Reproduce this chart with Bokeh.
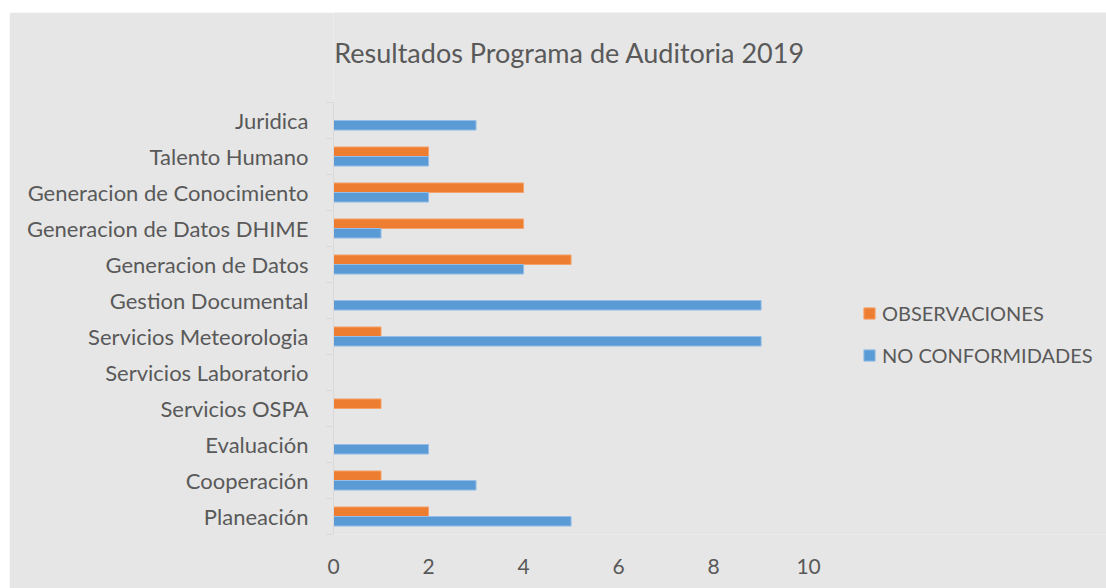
from bokeh.plotting import figure
from bokeh.models import FixedTicker, Legend, LegendItem, Spacer, Label
from bokeh.layouts import row, column
from bokeh.transform import dodge
from bokeh.embed import file_html
from bokeh.resources import INLINE

categories = ["Planeación", "Cooperación", "Evaluación", "Servicios OSPA",
              "Servicios Laboratorio", "Servicios Meteorologia", "Gestion Documental",
              "Generacion de Datos", "Generacion de Datos DHIME",
              "Generacion de Conocimiento", "Talento Humano", "Juridica"]
no_conformidades = [5, 3, 2, 0, 0, 9, 9, 4, 1, 2, 2, 3]
observaciones = [2, 1, 0, 1, 0, 1, 0, 5, 4, 4, 2, 0]
x_ticks = [0, 2, 4, 6, 8, 10]
title_text = "Resultados Programa de Auditoria 2019"

FONT = "Lato"
TXT = "#595959"
BG = "#e6e6e6"
BLUE = "#5b9bd5"
ORANGE = "#ed7d31"

n = len(categories)
centers = [i + 0.5 for i in range(n)]
bounds = list(range(n + 1))
data = dict(y=centers, nc=no_conformidades, ob=observaciones)

# frame extends to the right and top edges so the legend and title can sit inside it;
# value 10 lands where the reference's axis ends, category 12 where its axis tops out
p = figure(width=1097, height=576, x_range=(0, 16.27), y_range=(0, n + 2.5),
           output_backend="svg", toolbar_location=None,
           min_border_left=324, min_border_right=0, min_border_top=0,
           min_border_bottom=54)
p.background_fill_color = BG
p.border_fill_color = BG
p.outline_line_color = None
p.grid.visible = False

bh = 0.265
r_ob = p.hbar(y=dodge("y", bh / 2, range=p.y_range), right="ob", left=0, height=bh,
              source=data, fill_color=ORANGE, line_color="#f4a36c", line_width=1)
r_nc = p.hbar(y=dodge("y", -bh / 2, range=p.y_range), right="nc", left=0, height=bh,
              source=data, fill_color=BLUE, line_color="#93bde6", line_width=1)

# x axis
xa = p.xaxis[0]
xa.ticker = FixedTicker(ticks=x_ticks)
xa.axis_line_color = None
xa.major_tick_line_color = None
xa.minor_tick_line_color = None
xa.major_label_text_font = FONT
xa.major_label_text_font_size = "21px"
xa.major_label_text_color = TXT
xa.major_label_standoff = 18

# y axis
ya = p.yaxis[0]
ya.bounds = (0, n)
ya.ticker = FixedTicker(ticks=centers, minor_ticks=bounds)
ya.major_label_overrides = {c: lab for c, lab in zip(centers, categories)}
ya.axis_line_color = "#d9d9d9"
ya.axis_line_width = 1
ya.major_tick_line_color = None
ya.major_tick_out = 0
ya.major_tick_in = 0
ya.minor_tick_line_color = "#d9d9d9"
ya.minor_tick_out = 7
ya.minor_tick_in = 0
ya.major_label_text_font = FONT
ya.major_label_text_font_size = "22px"
ya.major_label_text_color = TXT
ya.major_label_standoff = 18

title = Label(x=4.97, y=n + 1.39, text=title_text, text_align="center",
              text_baseline="middle", text_font=FONT, text_font_size="27px",
              text_color=TXT)
p.add_layout(title)

legend = Legend(items=[LegendItem(label="OBSERVACIONES", renderers=[r_ob]),
                       LegendItem(label="NO CONFORMIDADES", renderers=[r_nc])],
                location=(529, 167), orientation="vertical",
                background_fill_alpha=0, border_line_color=None,
                padding=0, margin=0, spacing=18, glyph_width=14, glyph_height=14,
                label_standoff=6, label_text_font=FONT, label_text_font_size="20px",
                label_text_color=TXT)
p.add_layout(legend, "center")

layout = row(Spacer(width=9), column(Spacer(height=12), p))
open("out.html", "w").write(file_html(layout, INLINE))
